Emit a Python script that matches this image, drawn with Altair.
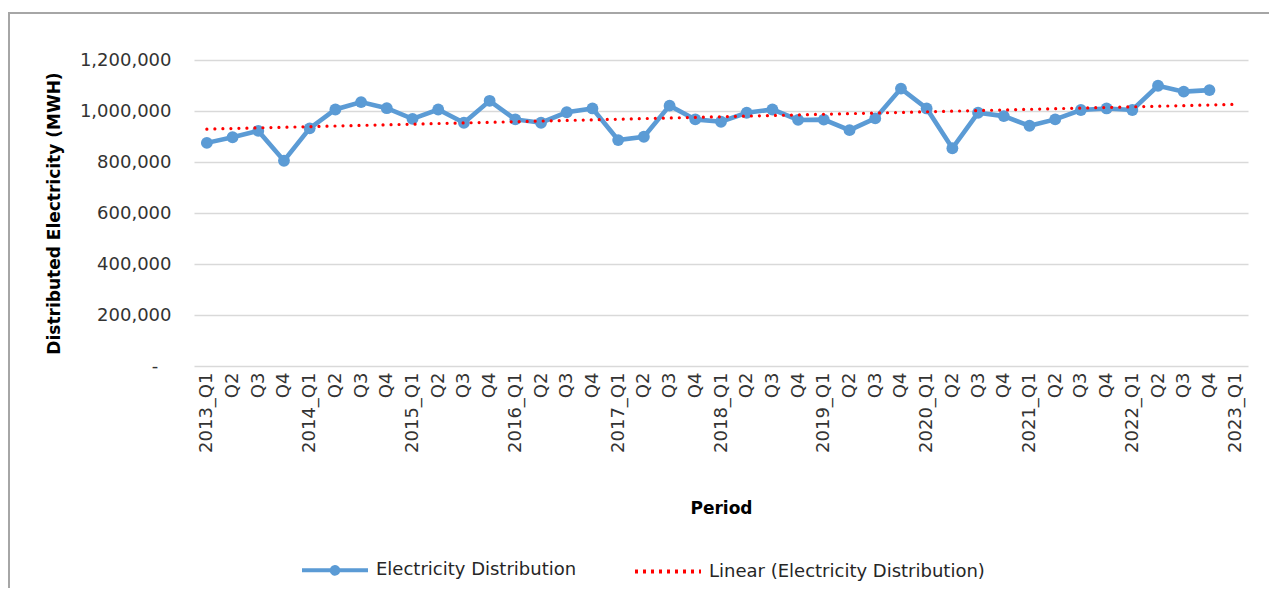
import json
import altair as alt
import pandas as pd

# ---- data ----
years = list(range(2013, 2024))
quarters = ["Q1", "Q2", "Q3", "Q4"]
period_labels = []
for y in years:
    for q in quarters:
        period_labels.append(f"{y}_{q}" if q == "Q1" else q)
period_labels = period_labels[:41]  # 2013_Q1 ... 2023_Q1

distribution_mwh = [
    875000, 897000, 922000, 805000,      # 2013
    932000, 1006000, 1035000, 1011000,   # 2014
    969000, 1006000, 954000, 1040000,    # 2015
    967000, 954000, 995000, 1010000,     # 2016
    886000, 899000, 1021000, 967000,     # 2017
    958000, 993000, 1006000, 965000,     # 2018
    966000, 925000, 971000, 1088000,     # 2019
    1010000, 854000, 993000, 980000,     # 2020
    942000, 967000, 1004000, 1010000,    # 2021
    1004000, 1099000, 1076000, 1082000,  # 2022
]

trend_index = [0, 40]
trend_values = [929000, 1026000]

series_names = ["Electricity Distribution", "Linear (Electricity Distribution)"]
y_ticks = [0, 200000, 400000, 600000, 800000, 1000000, 1200000]

# ---- tables ----
df_main = pd.DataFrame({
    "idx": list(range(len(distribution_mwh))),
    "value": distribution_mwh,
    "series": series_names[0],
})
df_trend = pd.DataFrame({"idx": trend_index, "value": trend_values, "series": series_names[1]})

BLUE = "#5B9BD5"
RED = "#FF0000"
FONT = "DejaVu Sans"
LABEL_COLOR = "#333333"

x_enc = alt.X(
    "idx:O",
    scale=alt.Scale(type="point", domain=list(range(len(period_labels))), padding=0.5),
    axis=alt.Axis(
        labelExpr=json.dumps(period_labels) + "[datum.value]",
        labelAngle=270,
        labelAlign="right",
        labelBaseline="middle",
        labelPadding=6,
        labelFontSize=18,
        labelColor=LABEL_COLOR,
        labelFont=FONT,
        labelOverlap=False,
        grid=False,
        ticks=False,
        domain=False,
        title="Period",
        titleFont=FONT,
        titleFontSize=17,
        titleFontWeight="bold",
        titleColor="#000000",
        titleX=527,
        titleY=142,
        titleBaseline="middle",
    ),
)

y_enc = alt.Y(
    "value:Q",
    scale=alt.Scale(domain=[0, 1200000], nice=False),
    axis=alt.Axis(
        values=y_ticks,
        labelExpr="datum.value == 0 ? '-\u2800' : format(datum.value, ',')",
        labelFontSize=18,
        labelColor=LABEL_COLOR,
        labelFont=FONT,
        labelPadding=23,
        grid=True,
        gridColor="#d9d9d9",
        gridWidth=1.6,
        ticks=False,
        domain=False,
        title="Distributed Electricity (MWH)",
        titleFont=FONT,
        titleFontSize=17,
        titleFontWeight="bold",
        titleColor="#000000",
        titleAngle=270,
        titleX=-140,
        titleY=153,
        titleBaseline="middle",
        titleAlign="center",
    ),
)

frame = alt.Chart(pd.DataFrame({"a": [0]})).mark_rect(
    fillOpacity=0, stroke="#a6a6a6", strokeWidth=2
).encode(
    x=alt.value(-185), x2=alt.value(1100), y=alt.value(-47), y2=alt.value(700)
)

line = alt.Chart(df_main).mark_line(color=BLUE, strokeWidth=4.6).encode(x=x_enc, y=y_enc)
points = alt.Chart(df_main).mark_point(
    filled=True, color=BLUE, size=140, opacity=1
).encode(x="idx:O", y="value:Q")

trend = alt.Chart(df_trend).mark_line(
    color=RED, strokeWidth=3.2, strokeDash=[0.01, 8], strokeCap="round"
).encode(x="idx:O", y="value:Q")

legend_path_main = "M-1,0L1,0M0.1,0A0.1,0.1,0,1,1,-0.1,0A0.1,0.1,0,1,1,0.1,0Z"
legend_path_trend = "M-1,0L1,0"

legend_layer = alt.Chart(df_main).transform_filter("false").mark_point().encode(
    x="idx:O",
    y="value:Q",
    fill=alt.Fill("series:N", scale=alt.Scale(domain=series_names, range=[BLUE, RED]), legend=alt.Legend(title=None)),
    stroke=alt.Stroke("series:N", scale=alt.Scale(domain=series_names, range=[BLUE, RED]), legend=alt.Legend(title=None)),
    shape=alt.Shape("series:N", scale=alt.Scale(domain=series_names, range=[legend_path_main, legend_path_trend]), legend=alt.Legend(title=None)),
    strokeDash=alt.StrokeDash("series:N", scale=alt.Scale(domain=series_names, range=[[1, 0], [3, 5]]), legend=alt.Legend(title=None)),
)

chart = alt.layer(frame, line, points, trend, legend_layer).properties(
    width=1054,
    height=306,
    autosize=alt.AutoSizeParams(type="none"),
    padding={"left": 186, "top": 52, "right": 21, "bottom": 222},
).configure_view(stroke=None).configure_legend(
    orient="none",
    legendX=106,
    legendY=475,
    direction="horizontal",
    symbolSize=4356,
    symbolStrokeWidth=4,
    symbolOpacity=1,
    labelFontSize=18,
    labelFont=FONT,
    labelColor="#262626",
    labelOffset=6,
    labelLimit=500,
    columnPadding=50,
)

chart.save("out.html", embed_options={"renderer": "svg", "actions": False})
